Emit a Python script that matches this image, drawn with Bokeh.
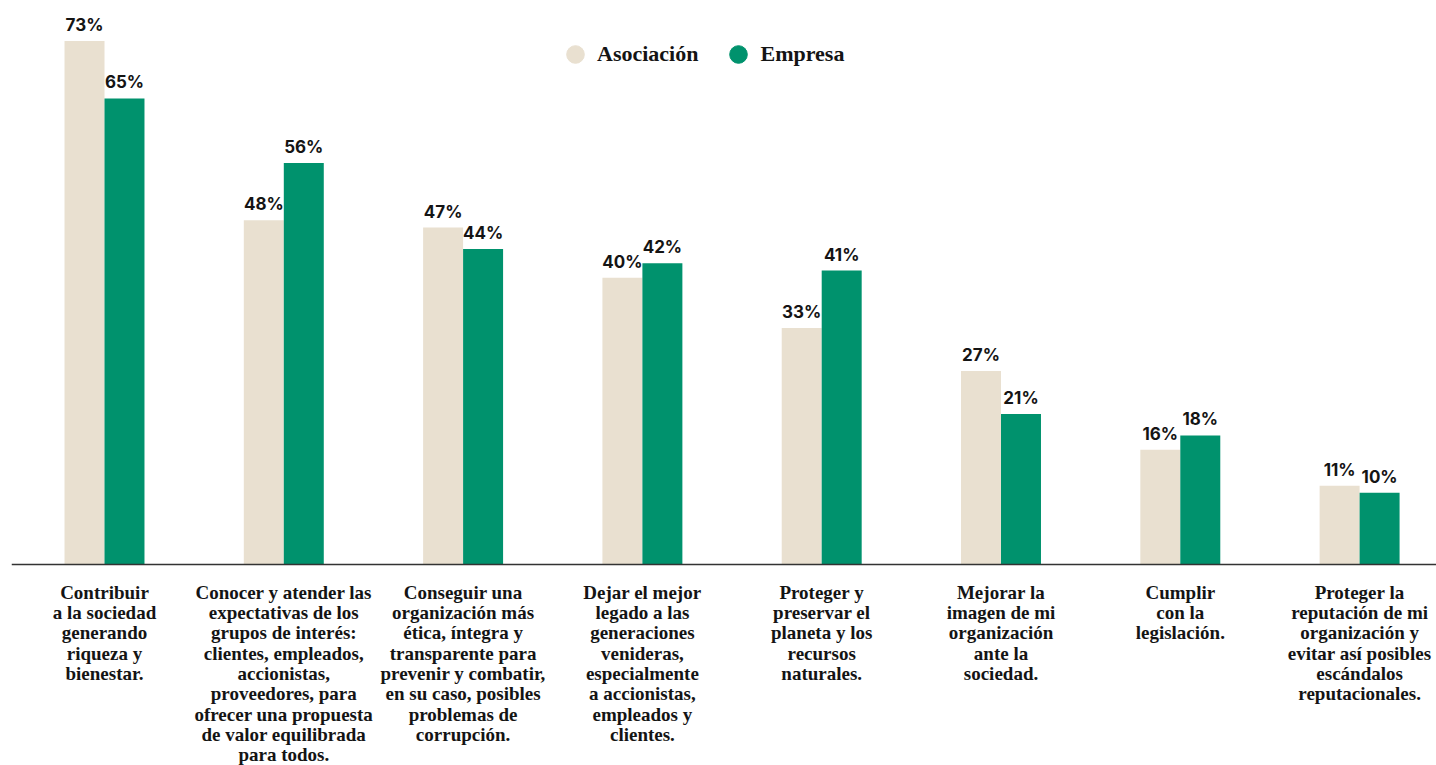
from bokeh.plotting import figure
from bokeh.models import ColumnDataSource, Range1d, Span, Legend, LegendItem
from bokeh.transform import dodge
from bokeh.core.properties import value
from bokeh.embed import file_html
from bokeh.resources import INLINE

# ---- data ----
categories = [
    "Contribuir\na la sociedad\ngenerando\nriqueza y\nbienestar.",
    "Conocer y atender las\nexpectativas de los\ngrupos de interés:\nclientes, empleados,\naccionistas,\nproveedores, para\nofrecer una propuesta\nde valor equilibrada\npara todos.",
    "Conseguir una\norganización más\nética, íntegra y\ntransparente para\nprevenir y combatir,\nen su caso, posibles\nproblemas de\ncorrupción.",
    "Dejar el mejor\nlegado a las\ngeneraciones\nvenideras,\nespecialmente\na accionistas,\nempleados y\nclientes.",
    "Proteger y\npreservar el\nplaneta y los\nrecursos\nnaturales.",
    "Mejorar la\nimagen de mi\norganización\nante la\nsociedad.",
    "Cumplir\ncon la\nlegislación.",
    "Proteger la\nreputación de mi\norganización y\nevitar así posibles\nescándalos\nreputacionales.",
]
asociacion = [73, 48, 47, 40, 33, 27, 16, 11]
empresa = [65, 56, 44, 42, 41, 21, 18, 10]
series_names = ["Asociación", "Empresa"]

# ---- styling ----
BEIGE = "#E9E0D0"
GREEN = "#00926D"
TEXT = "#141414"

W, H = 1436, 765
LEFT = 11
FRAME_W = W - LEFT
PX_CAT = 179.3      # pixels per category
PX_PCT = 7.17       # pixels per percentage point
BASE = 564          # px from top of frame to baseline

x0 = -(104 - LEFT) / PX_CAT
p = figure(
    width=W, height=H, output_backend="svg", toolbar_location=None,
    min_border_left=LEFT, min_border_right=0, min_border_top=0, min_border_bottom=0,
    x_range=Range1d(x0, x0 + FRAME_W / PX_CAT),
    y_range=Range1d(-(H - BASE) / PX_PCT, BASE / PX_PCT),
)
p.axis.visible = False
p.grid.visible = False
p.outline_line_color = None

src = ColumnDataSource(dict(
    x=list(range(len(categories))),
    cat=categories,
    asoc=asociacion,
    emp=empresa,
    asoc_lbl=[f"{v}%" for v in asociacion],
    emp_lbl=[f"{v}%" for v in empresa],
))

off = 0.1115
bw = 0.223
p.vbar(x=dodge("x", -off), top="asoc", bottom=0, width=bw, source=src,
       fill_color=BEIGE, line_color=None)
p.vbar(x=dodge("x", off), top="emp", bottom=0, width=bw, source=src,
       fill_color=GREEN, line_color=None)

p.add_layout(Span(location=0, dimension="width", line_color="#333333", line_width=1.5))

lbl_kw = dict(text_align="center", text_baseline="bottom", y_offset=-6,
              text_font=value("Inter"), text_font_style="bold",
              text_font_size="17px", text_color=TEXT, source=src)
p.text(x=dodge("x", -off), y="asoc", text="asoc_lbl", **lbl_kw)
p.text(x=dodge("x", off), y="emp", text="emp_lbl", **lbl_kw)

p.text(x="x", y=0, text="cat", source=src, y_offset=17, text_align="center",
       text_baseline="top", text_font=value("Liberation Serif"),
       text_font_style="bold", text_font_size="19px", text_line_height=0.97,
       text_color=TEXT)

r1 = p.scatter(x="x", y="asoc", source=src, marker="circle", size=18,
               fill_color=BEIGE, line_color=BEIGE, visible=False)
r2 = p.scatter(x="x", y="emp", source=src, marker="circle", size=18,
               fill_color=GREEN, line_color=GREEN, visible=False)
legend = Legend(
    items=[LegendItem(label=series_names[0], renderers=[r1]),
           LegendItem(label=series_names[1], renderers=[r2])],
    orientation="horizontal", location=(542, 689),
    glyph_width=44, glyph_height=44, label_standoff=0, spacing=18,
    padding=0, margin=0, border_line_color=None, background_fill_alpha=0,
    inactive_fill_alpha=0, click_policy="none",
    label_text_font="Liberation Serif", label_text_font_style="bold",
    label_text_font_size="22px", label_text_color=TEXT,
)
p.add_layout(legend, "center")

open("out.html", "w").write(file_html(p, INLINE))
